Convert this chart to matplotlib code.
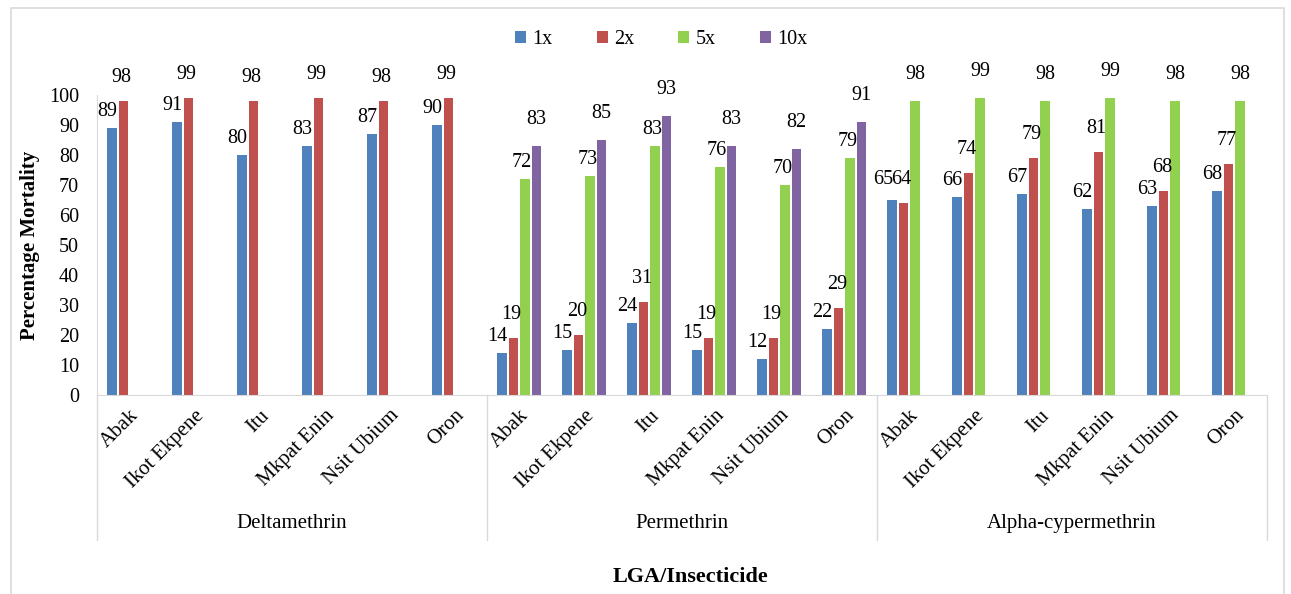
import numpy as np
import matplotlib.pyplot as plt
from matplotlib.patches import Rectangle

plt.rcParams['font.family'] = ['Liberation Serif', 'DejaVu Serif']

# dados
lgas = ['Abak', 'Ikot Ekpene', 'Itu', 'Mkpat Enin', 'Nsit Ubium', 'Oron']
insecticides = ['Deltamethrin', 'Permethrin', 'Alpha-cypermethrin']
series = ['1x', '2x', '5x', '10x']
nan = np.nan
v1x = [89, 91, 80, 83, 87, 90, 14, 15, 24, 15, 12, 22, 65, 66, 67, 62, 63, 68]
v2x = [98, 99, 98, 99, 98, 99, 19, 20, 31, 19, 19, 29, 64, 74, 79, 81, 68, 77]
v5x = [nan] * 6 + [72, 73, 83, 76, 70, 79] + [98, 99, 98, 99, 98, 98]
v10x = [nan] * 6 + [83, 85, 93, 83, 82, 91] + [nan] * 6
cores = ['#4F81BD', '#C0504D', '#92D050', '#8064A2']

# deslocamento dos rótulos (pixels) por série, como no original
desloc = [(-5, 7), (-2, 14), (-3, 7), (0, 17)]

fig = plt.figure(figsize=(12.91, 5.94), dpi=100)
ax = fig.add_axes([0.0751, 0.335, 0.9063, 0.505])

x = np.arange(len(v1x))
passo = 0.177
larg = 0.146
for i, (vals, nome, cor) in enumerate(zip([v1x, v2x, v5x, v10x], series, cores)):
    pos = x + (i - 1.5) * passo
    ax.bar(pos, vals, width=larg, color=cor, label=nome, zorder=2)
    for j, (p, v) in enumerate(zip(pos, vals)):
        if np.isnan(v):
            continue
        dx, dy = desloc[i]
        if i == 2 and j >= 12:
            dx, dy = 0, 17
        if i == 0 and j == 12:
            dx, dy = -9, 11
        ax.annotate(f'{v:g}', (p, v), xytext=(dx, dy), textcoords='offset pixels',
                    ha='center', va='bottom', fontsize=14.5, annotation_clip=False)

ax.set_xlim(-0.5, len(x) - 0.5)
ax.set_ylim(0, 100)
ax.set_yticks(np.arange(0, 101, 10))
ax.tick_params(axis='y', length=0, labelsize=14.5, pad=13)
ax.set_xticks(x)
ax.set_xticklabels(lgas * 3, rotation=45, ha='right', va='top',
                   rotation_mode='anchor', fontsize=15)
ax.tick_params(axis='x', length=0, pad=8)
for s in ['top', 'right']:
    ax.spines[s].set_visible(False)
for s in ['left', 'bottom']:
    ax.spines[s].set_color('#D9D9D9')

# separadores dos grupos e nomes
trans = ax.get_xaxis_transform()
for b in [-0.5, 5.5, 11.5, 17.5]:
    ax.plot([b, b], [0, -0.485], color='#D9D9D9', lw=1, transform=trans,
            clip_on=False)
for k, nome in enumerate(insecticides):
    ax.text(6 * k + 2.5, -0.43, nome, ha='center', va='center', fontsize=15,
            transform=trans)

ax.set_ylabel('Percentage Mortality', fontsize=15, fontweight='bold', labelpad=6)
fig.text(0.535, 0.028, 'LGA/Insecticide', ha='center', va='center',
         fontsize=16, fontweight='bold')

fig.legend(loc='center', bbox_to_anchor=(0.512, 0.933), ncol=4, frameon=False,
           fontsize=14.5, handlelength=0.55, handleheight=0.55, handletextpad=0.3,
           columnspacing=2.2)

fig.patches.append(Rectangle((0.0085, -0.01), 0.986, 0.997, transform=fig.transFigure,
                             fill=False, edgecolor='#D9D9D9', lw=1.2))

fig.savefig('out.png', dpi=100)
